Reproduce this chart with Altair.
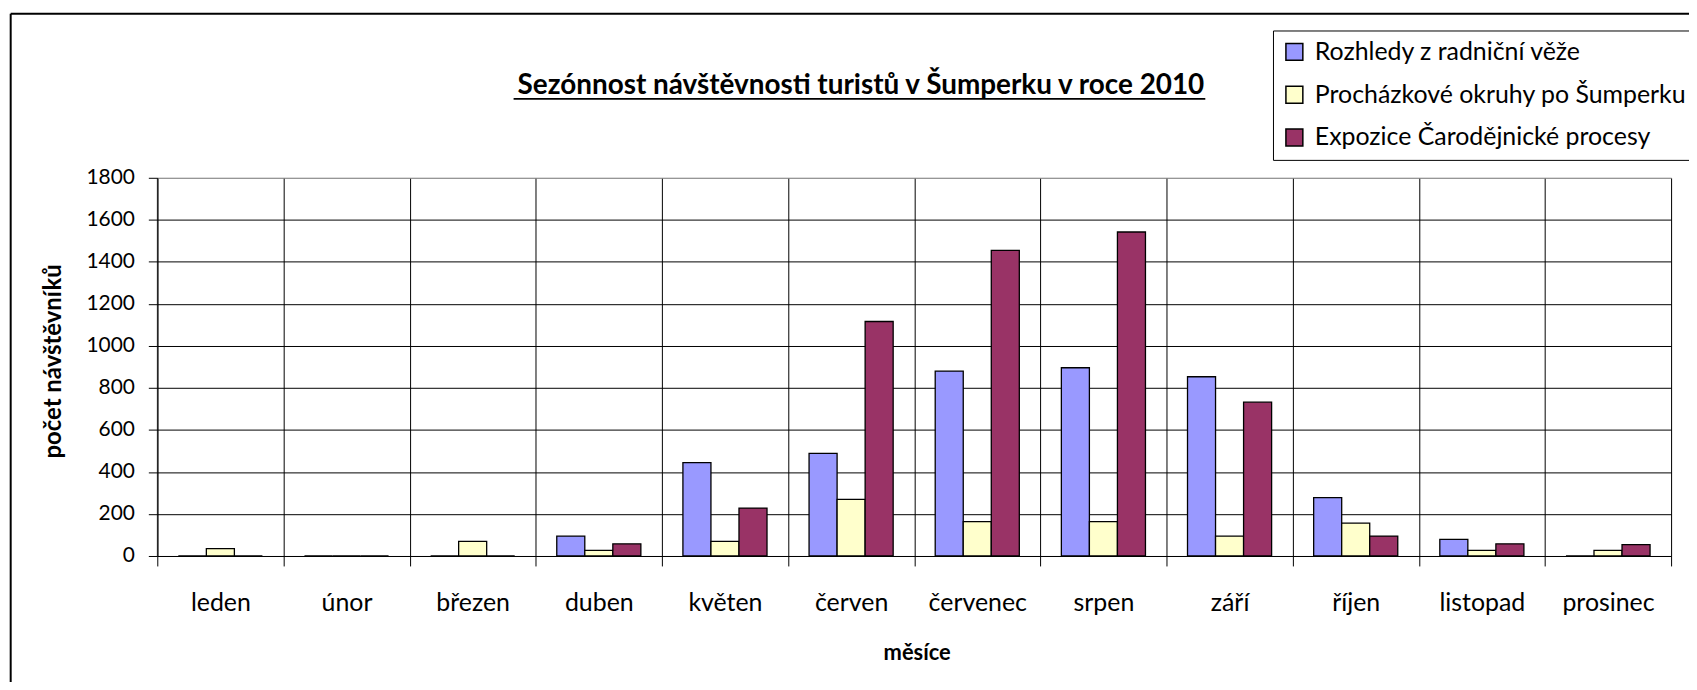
import altair as alt
import pandas as pd

months = ["leden", "únor", "březen", "duben", "květen", "červen",
          "červenec", "srpen", "září", "říjen", "listopad", "prosinec"]
series = ["Rozhledy z radniční věže", "Procházkové okruhy po Šumperku",
          "Expozice Čarodějnické procesy"]
rozhledy = [0, 0, 0, 95, 444, 488, 880, 896, 853, 278, 79, 0]
prochazky = [35, 0, 70, 27, 70, 269, 164, 164, 95, 156, 27, 27]
expozice = [0, 0, 0, 58, 228, 1116, 1455, 1542, 732, 95, 58, 54]
colors = ["#9999FF", "#FFFFCC", "#993366"]
y_ticks = [0, 200, 400, 600, 800, 1000, 1200, 1400, 1600, 1800]

title_text = "Sezónnost návštěvnosti turistů v Šumperku v roce 2010"
x_title = "měsíce"
y_title = "počet návštěvníků"

rows = []
for s, vals in zip(series, [rozhledy, prochazky, expozice]):
    for m, v in zip(months, vals):
        rows.append({"mesic": m, "serie": s, "hodnota": v})
df = pd.DataFrame(rows)

W, H = 1521, 380
FONT = "Lato"

bars = alt.Chart(df).mark_bar(stroke="black", strokeWidth=1.3).encode(
    x=alt.X("mesic:N", sort=months,
            scale=alt.Scale(paddingInner=0, paddingOuter=0),
            axis=alt.Axis(
                title=x_title, tickBand="extent", grid=True,
                gridColor={"condition": {"test": "datum.extra", "value": "#808080"}, "value": "black"},
                gridWidth={"condition": {"test": "datum.extra", "value": 2}, "value": 1},
                domainColor="black", tickColor="black", tickSize=10,
                labelFont=FONT, labelFontSize=25, labelColor="black",
                labelPadding=45, labelBaseline="alphabetic", labelAngle=0,
                titleFont=FONT, titleFontSize=22, titleFontWeight="bold",
                titleColor="black", titleBaseline="alphabetic",
                titleX=763, titleY=104)),
    xOffset=alt.XOffset("serie:N", sort=series,
                        scale=alt.Scale(paddingOuter=0.75, paddingInner=0)),
    y=alt.Y("hodnota:Q",
            scale=alt.Scale(domain=[0, 1800], nice=False),
            axis=alt.Axis(
                values=y_ticks, format="d", grid=True,
                gridColor={"condition": {"test": "datum.value == 1800", "value": "#808080"}, "value": "black"},
                gridWidth=1, domainColor="black", tickColor="black", tickSize=9,
                labelFont=FONT, labelFontSize=21, labelColor="black", labelPadding=14,
                title=y_title, titleFont=FONT, titleFontSize=24,
                titleFontWeight="bold", titleColor="black",
                titleBaseline="alphabetic", titleAngle=270,
                titleX=-97, titleY=184)),
    color=alt.Color("serie:N", sort=series,
                    scale=alt.Scale(domain=series, range=colors),
                    legend=alt.Legend(
                        orient="none", legendX=1121, legendY=-148, title=None,
                        strokeColor="black", fillColor="white", padding=9,
                        symbolType="square", symbolSize=289,
                        symbolStrokeColor="black", symbolStrokeWidth=1.5,
                        symbolOpacity=1, labelFont=FONT, labelFontSize=25,
                        labelColor="black", labelOffset=8, rowPadding=17,
                        labelLimit=1000)),
)

title_mark = alt.Chart(pd.DataFrame({"t": [title_text]})).mark_text(
    font=FONT, fontSize=28, fontWeight="bold", color="black",
    align="center", baseline="alphabetic"
).encode(text="t:N", x=alt.value(707), y=alt.value(-83.8))

underline = alt.Chart(pd.DataFrame({"a": [0]})).mark_rule(
    color="black", strokeWidth=2
).encode(x=alt.value(358), x2=alt.value(1053), y=alt.value(-79.3))

frame_top = alt.Chart(pd.DataFrame({"a": [0]})).mark_rule(
    color="black", strokeWidth=2
).encode(x=alt.value(-147.3), x2=alt.value(1600), y=alt.value(-164.8))

frame_left = alt.Chart(pd.DataFrame({"a": [0]})).mark_rule(
    color="black", strokeWidth=2
).encode(x=alt.value(-147.3), y=alt.value(-164.8), y2=alt.value(600))

chart = alt.layer(bars, title_mark, underline, frame_top, frame_left).properties(
    width=W, height=H,
    autosize=alt.AutoSizeParams(type="none"),
    padding={"left": 150, "top": 169, "right": 18, "bottom": 125},
    background="white",
).configure_view(
    fill="#C0C0C0", stroke="#808080", strokeWidth=1
).configure(font=FONT)

chart.save("out.html", embed_options={"renderer": "svg", "actions": False})
